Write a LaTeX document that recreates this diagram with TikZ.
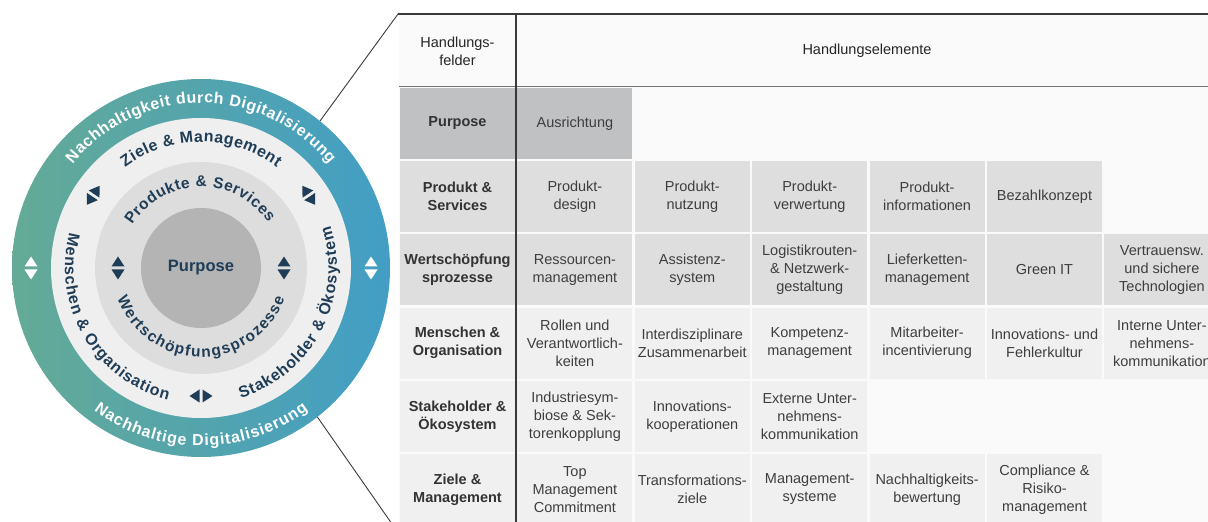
\documentclass[tikz,border=0pt]{standalone}
\usepackage{fontspec}
\setmainfont{Liberation Sans}
\usetikzlibrary{decorations.text}

\definecolor{ringgreen}{RGB}{100,170,150}
\definecolor{ringblue}{RGB}{66,158,197}
\definecolor{navy}{RGB}{31,61,87}
\definecolor{ringlight}{RGB}{239,239,239}
\definecolor{ringmid}{RGB}{221,221,221}
\definecolor{core}{RGB}{180,180,180}
\definecolor{purposegray}{RGB}{191,193,195}
\definecolor{darkcell}{RGB}{222,222,222}
\definecolor{lightcell}{RGB}{240,240,240}
\definecolor{tablebg}{RGB}{250,250,250}
\definecolor{rule}{RGB}{58,58,58}
\definecolor{celltext}{RGB}{62,62,62}

\newcommand{\ringfont}{\fontsize{16}{18}\selectfont\bfseries}
\newcommand{\midfont}{\fontsize{15.5}{18}\selectfont\bfseries}

\tikzset{
  cell/.style={minimum width=115pt, minimum height=71pt, inner sep=0pt,
    align=center, text=celltext, font=\fontsize{14.5}{18}\selectfont},
  rowhead/.style={cell, text=black!80, font=\fontsize{14.5}{18}\selectfont\bfseries},
  headtext/.style={align=center, text=black!85, font=\fontsize{14.5}{18}\selectfont},
  arctext/.style={decorate, decoration={text along path, text align={fit to path}, text={#1}}},
  twin/.pic={
    \fill (1.5,-6.5) -- (11.5,0) -- (1.5,6.5) -- cycle;
    \fill (-1.5,-6.5) -- (-11.5,0) -- (-1.5,6.5) -- cycle;
  }
}

\begin{document}
\begin{tikzpicture}[x=1pt,y=1pt]
  \useasboundingbox (0,0) rectangle (1208,522);

  % Ring model
  \begin{scope}[shift={(201,254)}]
    \shade[left color=ringgreen, right color=ringblue] (0,0) circle (189);
    \fill[ringlight] (0,0) circle (150);
    \fill[ringmid] (0,0) circle (106);
    \fill[core] (0,0) circle (60);
    \node[text=navy, font=\fontsize{16.5}{18}\selectfont\bfseries] (purpose) at (0,0) {Purpose};

    % Outer ring labels and arrows
    \path[arctext={|\ringfont\color{white}|Nachhaltigkeit durch Digitalisierung}]
      (141:165) arc[start angle=141, end angle=39, radius=165];
    \path[arctext={|\ringfont\color{white}|Nachhaltige Digitalisierung}]
      (233:178) arc[start angle=233, end angle=307, radius=178];
    \path (180:170) pic[rotate=90, fill=white] {twin};
    \path (0:170) pic[rotate=90, fill=white] {twin};

    % Light ring labels and arrows
    \path[arctext={|\ringfont\color{navy}|Ziele {\&} Management}]
      (127:126) arc[start angle=127, end angle=53, radius=126];
    \path[arctext={|\ringfont\color{navy}|Menschen {\&} Organisation}]
      (165:136) arc[start angle=165, end angle=256, radius=136];
    \path[arctext={|\ringfont\color{navy}|Stakeholder {\&} Ökosystem}]
      (287:136) arc[start angle=287, end angle=378, radius=136];
    \path (146:130) pic[rotate=56, fill=navy] {twin};
    \path (34:130) pic[rotate=124, fill=navy] {twin};
    \path (270:128) pic[fill=navy] {twin};

    % Middle ring labels and arrows
    \path[arctext={|\midfont\color{navy}|Produkte {\&} Services}]
      (148:81) arc[start angle=148, end angle=34, radius=81];
    \path[arctext={|\midfont\color{navy}|Wertschöpfungsprozesse}]
      (200:89) arc[start angle=200, end angle=340, radius=89];
    \path (180:83) pic[rotate=90, fill=navy] {twin};
    \path (0:83) pic[rotate=90, fill=navy] {twin};

    % Rim points for the zoom lines
    \coordinate (rimN) at (51:189);
    \coordinate (rimS) at (-52:189);
  \end{scope}

  % Table background
  \fill[tablebg] (399,-10) rectangle (1215,508);
  \coordinate (tabNW) at (398,508);
  \coordinate (tabSW) at (399,-12);

  % Header
  \node[headtext] (felder) at (457.5,470.5) {Handlungs-\\felder};
  \node[headtext] (elemente) at (867,471.5) {Handlungselemente};

  % Purpose
  \node[rowhead, fill=purposegray] (purp0) at (457.5,398.5) {Purpose};
  \node[cell, fill=purposegray] (purp1) at (574.9,398.5) {Ausrichtung};

  % Produkt & Services
  \node[rowhead, fill=darkcell] (prod0) at (457.5,325.3) {Produkt \&\\Services};
  \node[cell, fill=darkcell] (prod1) at (574.9,325.3) {Produkt-\\design};
  \node[cell, fill=darkcell] (prod2) at (692.3,325.3) {Produkt-\\nutzung};
  \node[cell, fill=darkcell] (prod3) at (809.7,325.3) {Produkt-\\verwertung};
  \node[cell, fill=darkcell] (prod4) at (927.1,325.3) {Produkt-\\informationen};
  \node[cell, fill=darkcell] (prod5) at (1044.5,325.3) {Bezahlkonzept};

  % Wertschoepfungsprozesse
  \node[rowhead, fill=darkcell] (wert0) at (457.5,252.1) {Wertschöpfung\\sprozesse};
  \node[cell, fill=darkcell] (wert1) at (574.9,252.1) {Ressourcen-\\management};
  \node[cell, fill=darkcell] (wert2) at (692.3,252.1) {Assistenz-\\system};
  \node[cell, fill=darkcell] (wert3) at (809.7,252.1) {Logistikrouten-\\\& Netzwerk-\\gestaltung};
  \node[cell, fill=darkcell] (wert4) at (927.1,252.1) {Lieferketten-\\management};
  \node[cell, fill=darkcell] (wert5) at (1044.5,252.1) {Green IT};
  \node[cell, fill=darkcell] (wert6) at (1161.9,252.1) {Vertrauensw.\\und sichere\\Technologien};

  % Menschen & Organisation
  \node[rowhead, fill=lightcell] (mens0) at (457.5,178.9) {Menschen \&\\Organisation};
  \node[cell, fill=lightcell] (mens1) at (574.9,178.9) {Rollen und\\Verantwortlich-\\keiten};
  \node[cell, fill=lightcell] (mens2) at (692.3,178.9) {Interdisziplinare\\Zusammenarbeit};
  \node[cell, fill=lightcell] (mens3) at (809.7,178.9) {Kompetenz-\\management};
  \node[cell, fill=lightcell] (mens4) at (927.1,178.9) {Mitarbeiter-\\incentivierung};
  \node[cell, fill=lightcell] (mens5) at (1044.5,178.9) {Innovations- und\\Fehlerkultur};
  \node[cell, fill=lightcell] (mens6) at (1161.9,178.9) {Interne Unter-\\nehmens-\\kommunikation};

  % Stakeholder & Oekosystem
  \node[rowhead, fill=lightcell] (stak0) at (457.5,105.7) {Stakeholder \&\\Ökosystem};
  \node[cell, fill=lightcell] (stak1) at (574.9,105.7) {Industriesym-\\biose \& Sek-\\torenkopplung};
  \node[cell, fill=lightcell] (stak2) at (692.3,105.7) {Innovations-\\kooperationen};
  \node[cell, fill=lightcell] (stak3) at (809.7,105.7) {Externe Unter-\\nehmens-\\kommunikation};

  % Ziele & Management
  \node[rowhead, fill=lightcell] (ziel0) at (457.5,32.5) {Ziele \&\\Management};
  \node[cell, fill=lightcell] (ziel1) at (574.9,32.5) {Top\\Management\\Commitment};
  \node[cell, fill=lightcell] (ziel2) at (692.3,32.5) {Transformations-\\ziele};
  \node[cell, fill=lightcell] (ziel3) at (809.7,32.5) {Management-\\systeme};
  \node[cell, fill=lightcell] (ziel4) at (927.1,32.5) {Nachhaltigkeits-\\bewertung};
  \node[cell, fill=lightcell] (ziel5) at (1044.5,32.5) {Compliance \&\\Risiko-\\management};

  % Table rules
  \draw[rule, line width=1.3pt] (tabNW) -- (1212,508);
  \draw[black!55, line width=1pt] (399,435) -- (1212,435);
  \draw[rule, line width=1.2pt] (516,508) -- (516,-10);

  % Zoom lines from the ring to the table
  \draw[rule, line width=0.9pt] (rimN) -- (tabNW);
  \draw[rule, line width=0.9pt] (rimS) -- (tabSW);
\end{tikzpicture}
\end{document}
